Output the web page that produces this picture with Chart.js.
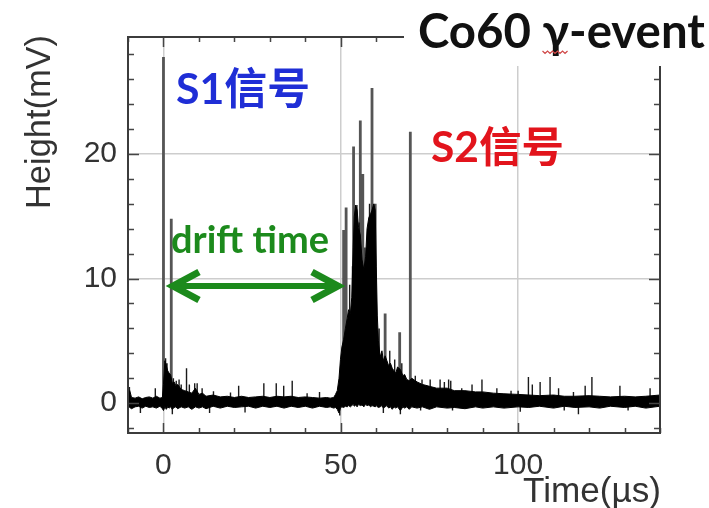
<!DOCTYPE html>
<html><head><meta charset="utf-8">
<script src="https://cdn.jsdelivr.net/npm/chart.js@4"></script>
<style>html,body{margin:0;padding:0;background:#fff}canvas{display:block}</style>
</head><body>
<canvas id="c" width="709" height="508" style="width:709px;height:508px"></canvas>
<script>
// ---- tick labels ----
const xTicks = [0, 50, 100];
const yTicks = [0, 10, 20];

// ---- dense trace envelope (time in µs, height in mV) ----
const bandT = [-10,-9.5,-9,-8,-7,-6,-5,-4,-3,-2,-1,-0.3,
  0,0.4,0.8,1.2,1.6,2,2.5,3,3.5,4, 5,6,7,8,9,10,11,12,
  14,16,18,20,22,24,26,28,30,32,34,36,38,40,42,44,46,47,48,
  48.5,49,49.5,49.9,50.3,50.8,51.3,51.8,52.2,52.7,
  53.1,53.5,53.8,54.2,54.6,55,55.5,56,56.5,57,
  57.4,57.9,58.4,58.8,59.3,59.7,60,60.3,60.6,61.1,
  61.6,62,62.5,63,63.5,64,64.5,65,65.5,66,
  66.8,67.5,68,68.6,69.3,70,
  71.5,73,75,77,80,82,85,88,90,93,
  96,100,103,106,110,113,116,120,123,126,
  130,133,136,140];
const bandHi = [0.55,1.0,0.45,0.4,0.5,0.35,0.45,0.5,0.4,0.55,0.4,0.45,
  1.5,3.4,3.0,2.6,2.4,2.3,1.6,1.7,1.4,1.5, 1.1,1.0,0.9,0.8,1.2,0.7,0.8,0.55,
  0.65,0.5,0.55,0.45,0.55,0.45,0.5,0.55,0.45,0.55,0.5,0.55,0.45,0.5,0.45,0.4,0.45,0.4,0.45,
  0.7,1.0,2.0,3.5,4.5,5.1,6.0,6.8,7.5,7.2,
  8.5,12.5,15.0,15.9,15.5,14.1,13.5,11.5,10.7,11.8,
  14.0,14.9,15.2,15.5,16.0,15.5,11.0,7.0,5.0,3.7,
  4.2,3.4,3.8,3.4,3.0,3.2,2.8,2.6,2.4,2.9,
  2.7,2.2,2.3,1.9,1.8,2.0,
  1.7,1.5,1.35,1.2,1.2,1.0,1.0,0.9,0.9,0.8,
  0.75,0.7,0.65,0.6,0.65,0.55,0.55,0.6,0.55,0.5,
  0.55,0.5,0.55,0.65];
const bandLo = [-0.25,-0.35,-0.45,-0.3,-0.25,-0.4,-0.25,-0.35,-0.3,-0.4,-0.25,-0.45,
  -0.6,-0.3,-0.5,-0.3,-0.4,-0.3,-0.5,-0.35,-0.3,-0.45, -0.3,-0.4,-0.3,-0.5,-0.3,-0.4,-0.3,-0.45,
  -0.25,-0.4,-0.25,-0.35,-0.3,-0.25,-0.4,-0.25,-0.35,-0.25,-0.4,-0.25,-0.35,-0.25,-0.4,-0.25,-0.35,-0.3,-0.4,
  -0.35,-0.5,-0.8,-0.4,-0.3,-0.35,-0.25,-0.3,-0.2,-0.3,
  -0.2,-0.1,-0.25,-0.15,-0.3,-0.1,-0.2,-0.15,-0.3,-0.1,
  -0.2,-0.15,-0.3,-0.2,-0.25,-0.3,-0.2,-0.3,-0.35,-0.3,
  -0.2,-0.4,-0.3,-0.2,-0.4,-0.3,-0.5,-0.3,-0.4,-0.3,
  -0.6,-0.3,-0.4,-0.3,-0.5,-0.3,
  -0.4,-0.3,-0.5,-0.3,-0.4,-0.35,-0.45,-0.3,-0.4,-0.3,
  -0.4,-0.3,-0.35,-0.25,-0.4,-0.25,-0.35,-0.3,-0.4,-0.25,
  -0.35,-0.25,-0.4,-0.25];

// ---- small spikes on the trace ----
const spikeT = [-9.6,-6.5,-2.3,0.6,1.0,2.5,2.8,3.6,4.4,5.0,
  6.5,7.3,8.8,9.5,10.9,13.0,14.1,18.9,21.2,23.0,
  28.3,31.8,33.9,36.3,40.5,44.0,49.7,52.5,53.3,55.2,
  56.8,58.1,60.8,62.0,63.8,65.2,66.8,67.2,71.0,72.5,
  72.9,75.2,78.0,79.2,80.4,81.0,81.5,84.1,87.0,89.8,
  94.0,98.0,100.0,100.6,102.9,104.0,106.2,109.0,111.4,113.0,
  115.6,117.0,118.9,120.8,128.7,131.0,137.2];
const spikeH = [1.3,-0.8,1.2,3.6,3.2,-0.9,2.0,1.8,1.9,1.5,
  2.8,1.5,1.6,1.6,1.2,-0.8,0.95,0.85,1.4,-0.75,
  1.6,1.6,1.4,1.8,0.8,0.9,-1.0,9.5,11.0,14.5,
  12.5,16.0,6.0,-0.8,4.2,3.5,-0.9,3.2,2.2,-0.6,
  1.9,1.9,1.9,1.7,1.9,1.8,-0.6,1.2,1.5,1.9,
  1.2,1.0,1.0,-0.7,2.1,1.5,1.7,2.1,1.2,-0.6,
  0.9,-0.9,1.4,2.1,1.4,-0.6,1.2];

// ---- tall pulses (S1 and S2) ----
const bigT = [0.0,2.2,50.8,51.5,53.6,54.4,55.5,56.2,58.8,59.7,62.5,66.6,69.6];
const bigH = [27.8,14.8,13.9,15.7,20.6,15.9,22.7,18.4,25.3,16.0,7.2,5.7,21.8];

function pts(ts, ys){ return ts.map((t,i)=>({x:t, y:ys[i]})); }
function spikes(ts, hs){
  const d = [];
  ts.forEach((t,i)=>{ d.push({x:t,y:0},{x:t,y:hs[i]},{x:t,y:null}); });
  return d;
}

const SANS = '"Liberation Sans", Arial, sans-serif';
const BOLD = 'Lato, "Open Sans", "Noto Sans", "Noto Sans CJK SC", sans-serif';

function fitSize(ctx, text, weight, family, targetW){
  ctx.font = weight + ' 100px ' + family;
  return 100 * targetW / ctx.measureText(text).width;
}

const decor = {
  id: 'decor',
  afterDraw(chart){
    const {ctx, chartArea:a, scales:{x, y}} = chart;
    ctx.save();
    // inward ticks on all four sides
    ctx.strokeStyle = '#454545'; ctx.lineWidth = 1.5;
    ctx.beginPath();
    for (let v = -10; v <= 140; v += 10){
      const px = Math.round(x.getPixelForValue(v)) + 0.5;
      const len = (v % 50 === 0) ? 10 : 5;
      ctx.moveTo(px, a.bottom); ctx.lineTo(px, a.bottom - len);
      ctx.moveTo(px, a.top); ctx.lineTo(px, a.top + len);
    }
    for (let v = -2; v <= 28; v += 2){
      const py = Math.round(y.getPixelForValue(v)) + 0.5;
      const len = (v % 10 === 0) ? 11 : 6;
      ctx.moveTo(a.left, py); ctx.lineTo(a.left + len, py);
      ctx.moveTo(a.right, py); ctx.lineTo(a.right - len, py);
    }
    ctx.stroke();
    // frame
    ctx.lineWidth = 2; ctx.strokeStyle = '#3c3c3c';
    ctx.strokeRect(a.left, a.top, a.right - a.left, a.bottom - a.top);

    // title box
    ctx.fillStyle = '#fff';
    ctx.fillRect(404, 0, 305, 66);
    const title = 'Co60 γ-event';
    let s = fitSize(ctx, title, 'bold', BOLD, 287);
    ctx.font = 'bold ' + s + 'px ' + BOLD;
    ctx.fillStyle = '#111'; ctx.textAlign = 'left'; ctx.textBaseline = 'alphabetic';
    ctx.fillText(title, 418, 48);
    // spell-check squiggle under γ
    const gx = 418 + ctx.measureText('Co60 ').width;
    const gw = ctx.measureText('γ').width;
    ctx.strokeStyle = '#d04848'; ctx.lineWidth = 1.2;
    ctx.beginPath();
    for (let i = 0, xx = gx; xx <= gx + gw; i++, xx += 2.5){
      const yy = 52 + (i % 2 ? 1.5 : -1);
      if (i === 0) ctx.moveTo(xx, yy); else ctx.lineTo(xx, yy);
    }
    ctx.stroke();

    // S1 / S2 labels
    s = fitSize(ctx, 'S1信号', 'bold', BOLD, 134);
    ctx.font = 'bold ' + s + 'px ' + BOLD;
    ctx.fillStyle = '#1f2ed6';
    ctx.fillText('S1信号', 176, 104);
    s = fitSize(ctx, 'S2信号', 'bold', BOLD, 133);
    ctx.font = 'bold ' + s + 'px ' + BOLD;
    ctx.fillStyle = '#e2141c';
    ctx.fillText('S2信号', 431, 162);

    // drift time label + arrow
    s = fitSize(ctx, 'drift time', 'bold', BOLD, 158);
    ctx.font = 'bold ' + s + 'px ' + BOLD;
    ctx.fillStyle = '#1c8a1c';
    ctx.fillText('drift time', 171, 253);
    ctx.strokeStyle = '#1c8a1c';
    ctx.lineWidth = 6; ctx.lineCap = 'butt'; ctx.lineJoin = 'miter';
    ctx.beginPath(); ctx.moveTo(176, 286); ctx.lineTo(335, 286); ctx.stroke();
    ctx.lineWidth = 7;
    ctx.beginPath();
    ctx.moveTo(199, 272); ctx.lineTo(173, 286); ctx.lineTo(199, 300);
    ctx.moveTo(312, 272); ctx.lineTo(338, 286); ctx.lineTo(312, 300);
    ctx.stroke();

    // axis titles
    ctx.fillStyle = '#333';
    s = fitSize(ctx, 'Height(mV)', 'normal', SANS, 174);
    ctx.save();
    ctx.translate(50, 122); ctx.rotate(-Math.PI / 2);
    ctx.font = s + 'px ' + SANS; ctx.textAlign = 'center'; ctx.textBaseline = 'alphabetic';
    ctx.fillText('Height(mV)', 0, 0);
    ctx.restore();
    s = fitSize(ctx, 'Time(µs)', 'normal', SANS, 138);
    ctx.font = s + 'px ' + SANS; ctx.textAlign = 'right'; ctx.textBaseline = 'alphabetic';
    ctx.fillText('Time(µs)', 661, 502);
    ctx.restore();
  }
};

new Chart(document.getElementById('c'), {
  type: 'line',
  data: {
    datasets: [
      { data: pts(bandT, bandLo), borderColor: '#000', borderWidth: 1, fill: false, order: 1 },
      { data: pts(bandT, bandHi), borderColor: '#000', borderWidth: 1, backgroundColor: '#000', fill: '-1', order: 1 },
      { data: spikes(spikeT, spikeH), borderColor: '#1a1a1a', borderWidth: 1.4, fill: false, spanGaps: false, order: 2 },
      { data: spikes(bigT, bigH), borderColor: '#555', borderWidth: 2.8, fill: false, spanGaps: false, order: 3 }
    ]
  },
  options: {
    responsive: false, animation: false, events: [],
    layout: { padding: { left: 0, right: 49, top: 37, bottom: 0 } },
    plugins: { legend: { display: false }, tooltip: { enabled: false }, title: { display: false } },
    elements: { point: { radius: 0 }, line: { tension: 0, borderCapStyle: 'butt' } },
    scales: {
      x: {
        type: 'linear', min: -10, max: 140,
        afterBuildTicks: ax => { ax.ticks = xTicks.map(v => ({ value: v })); },
        afterFit: ax => { ax.height = 75; },
        grid: { color: '#cdcdcd', lineWidth: 1.5, drawTicks: false },
        border: { display: false },
        ticks: { font: { family: SANS, size: 30 }, color: '#333', padding: 15, maxRotation: 0, autoSkip: false }
      },
      y: {
        type: 'linear', min: -2.4, max: 29.4,
        afterBuildTicks: ax => { ax.ticks = yTicks.map(v => ({ value: v })); },
        afterFit: ax => { ax.width = 128; },
        grid: { color: '#cdcdcd', lineWidth: 1.5, drawTicks: false },
        border: { display: false },
        ticks: { font: { family: SANS, size: 30 }, color: '#333', padding: 11 }
      }
    }
  },
  plugins: [decor]
});
</script>
</body></html>
